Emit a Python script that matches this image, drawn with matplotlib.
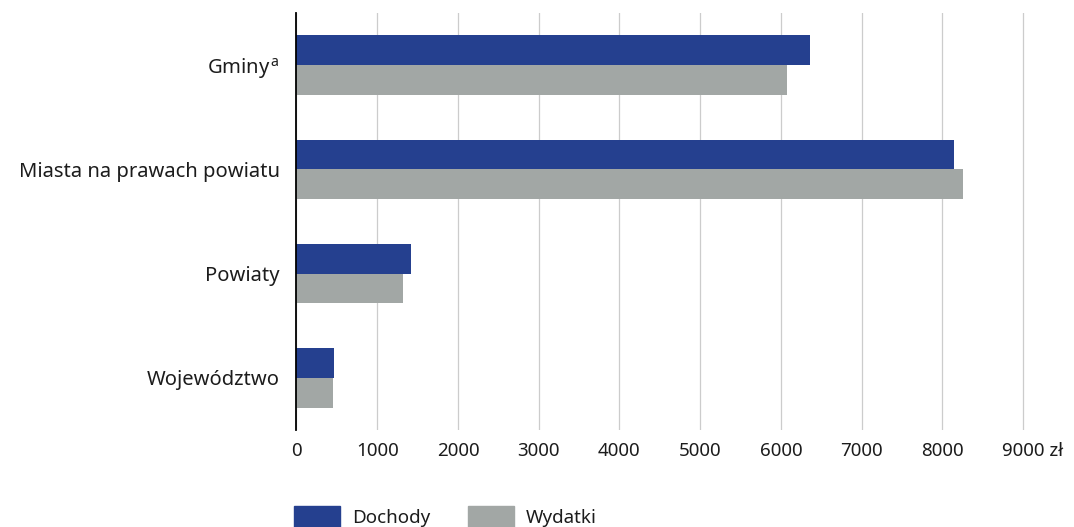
import numpy as np
import matplotlib.pyplot as plt
from matplotlib.patches import Patch
from matplotlib.transforms import ScaledTranslation

plt.rcParams['font.family'] = ['Noto Sans', 'DejaVu Sans']
plt.rcParams['mathtext.fontset'] = 'custom'
plt.rcParams['mathtext.rm'] = 'Noto Sans'

categories = ['Gminy$^{\\,\\mathrm{a}}$', 'Miasta na prawach powiatu', 'Powiaty', 'Województwo']
dochody = [6355, 8140, 1415, 465]
wydatki = [6080, 8250, 1318, 450]
xticks = [0, 1000, 2000, 3000, 4000, 5000, 6000, 7000, 8000, 9000]
xlabels = ['0', '1000', '2000', '3000', '4000', '5000', '6000', '7000', '8000', '9000 zł']

blue = '#25408f'
gray = '#a2a7a5'
txt = '#1c1c1c'

fig = plt.figure(figsize=(10.74, 5.27), dpi=100)
ax = fig.add_axes([296.5 / 1074, 1 - 430 / 527, 730.6 / 1074, 417 / 527])

y = np.arange(len(categories))
h = 0.285
ax.barh(y - h / 2, dochody, height=h, color=blue, zorder=3)
ax.barh(y + h / 2, wydatki, height=h, color=gray, zorder=3)

ax.set_ylim(3.5, -0.5)
ax.set_xlim(0, 9050)
ax.set_xticks(xticks)
ax.set_xticklabels(xlabels)
ax.set_yticks(y)
ax.set_yticklabels(categories)
ax.tick_params(axis='both', length=0, colors=txt)
ax.tick_params(axis='x', labelsize=13.5, pad=9)
ax.tick_params(axis='y', labelsize=14.5, pad=12)
ax.grid(axis='x', color='#cccccc', lw=0.9, zorder=0)
for s in ['top', 'right', 'bottom']:
    ax.spines[s].set_visible(False)
ax.spines['left'].set_color('black')
ax.spines['left'].set_linewidth(1.3)
ax.spines['left'].set_zorder(4)

# shift the last label (with unit) so that "9000" sits under its gridline
last = ax.get_xticklabels()[-1]
last.set_transform(last.get_transform() + ScaledTranslation(9 / 100, 0, fig.dpi_scale_trans))

handles = [Patch(color=blue, label='Dochody'), Patch(color=gray, label='Wydatki')]
fig.legend(handles=handles, loc='upper left', bbox_to_anchor=(294 / 1074, 1 - 506 / 527),
           ncol=2, frameon=False, fontsize=13.5, handlelength=2.45, handleheight=1.4,
           columnspacing=2.0, handletextpad=0.64, borderpad=0, borderaxespad=0,
           labelcolor=txt)

plt.savefig('out.png', dpi=100)
plt.close()
